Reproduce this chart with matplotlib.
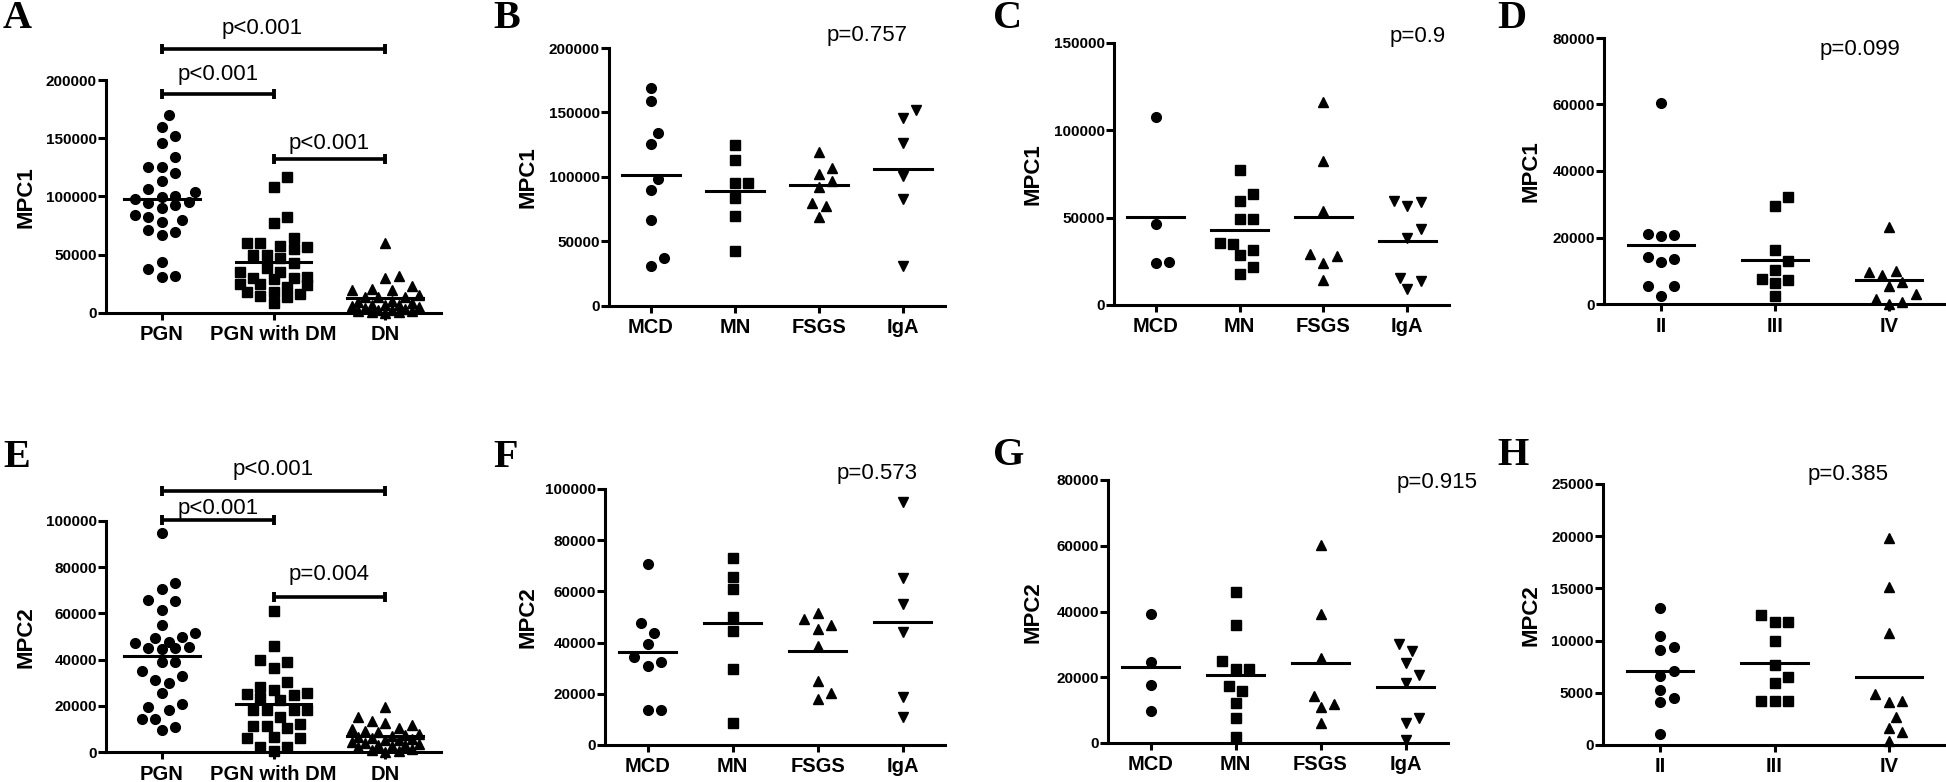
import numpy as np
import matplotlib
matplotlib.use('Agg')
import matplotlib.pyplot as plt

plt.rcParams['font.family'] = ['Liberation Sans', 'DejaVu Sans']
plt.rcParams['font.weight'] = 'bold'

W, H = 1946, 782

# ---------------- data ----------------
grp_kidney = ['PGN', 'PGN with DM', 'DN']
grp_path = ['MCD', 'MN', 'FSGS', 'IgA']
grp_class = ['II', 'III', 'IV']

# A: MPC1 by kidney group
a_pgn = [170000, 159400, 152200, 145600, 134200, 125600, 125600, 120400, 113600, 106400,
         103600, 100700, 99300, 97600, 95600, 94500, 92700, 89800, 84100, 82100,
         79800, 77800, 71200, 69200, 67000, 43500, 37500, 32000, 31200]
a_dm = [117000, 108400, 82700, 77500, 64100, 59800, 59800, 57800, 56400, 54700,
        49800, 49800, 46900, 42700, 38300, 35500, 34900, 31200, 29800, 29800,
        28900, 24900, 24900, 24000, 22600, 18300, 18300, 16000, 14600, 14000, 8300]
a_dn = [60000, 32000, 30000, 23000, 21000, 20000, 19500, 15500, 14000, 14000,
        13500, 10000, 9500, 9000, 7000, 7000, 6500, 6000, 5000, 4000,
        3500, 3000, 2500, 2000, 1500, 1000, 500, 0]
a_means = [97600, 44000, 13200]
a_pvals = ['p<0.001', 'p<0.001', 'p<0.001']

# E: MPC2 by kidney group
e_pgn = [94700, 73300, 70700, 65800, 65400, 61300, 55000, 51400, 49900, 49500,
         47800, 47300, 45600, 45200, 45200, 44600, 39100, 39100, 35100, 32900,
         31200, 30000, 25400, 20800, 19300, 18200, 14100, 14100, 11000, 9500]
e_dm = [61000, 45900, 39800, 39100, 36500, 30400, 28300, 26800, 25700, 25100,
        24700, 23200, 22500, 18200, 18200, 18200, 18200, 15300, 12000, 11300,
        11300, 10300, 6600, 5900, 5900, 2300, 2300, 500]
e_dn = [19600, 15300, 13500, 12500, 11500, 10500, 10000, 9000, 8500, 8000,
        7500, 7000, 6500, 6000, 5500, 5000, 5000, 4500, 4000, 3500,
        3000, 3000, 2500, 2000, 1500, 1000, 500, 0]
e_means = [41700, 20800, 7000]
e_pvals = ['p<0.001', 'p<0.001', 'p=0.004']

# B: MPC1 by pathology (PGN)
b_mcd = [169300, 159000, 134200, 125200, 98800, 90300, 66600, 37400, 31200]
b_mn = [124600, 113000, 95500, 95500, 83900, 69900, 42800]
b_fsgs = [119500, 106600, 102700, 96800, 91900, 79500, 77400, 69200]
b_iga = [152300, 145800, 126400, 100600, 82600, 31000]
b_means = [101900, 89500, 93700, 106100]

# F: MPC2 by pathology (PGN)
f_mcd = [70600, 47800, 43900, 39300, 34500, 32300, 31000, 13700, 13700]
f_mn = [73200, 65800, 60800, 49900, 44500, 29700, 8700]
f_fsgs = [51400, 49100, 46900, 45200, 38700, 25000, 20200, 17800]
f_iga = [95000, 65100, 55100, 44300, 18900, 11100]
f_means = [36200, 47500, 36800, 47900]

# C: MPC1 by pathology (PGN with DM)
c_mcd = [107700, 46100, 24600, 24200]
c_mn = [77200, 63500, 59500, 49200, 49200, 35600, 34700, 31400, 28600, 21900, 17700]
c_fsgs = [116300, 82300, 53700, 29000, 28000, 23800, 14300]
c_iga = [59500, 58700, 56800, 43300, 38500, 15200, 13700, 9000]
c_means = [50500, 42900, 50500, 36600]

# G: MPC2 by pathology (PGN with DM)
g_mcd = [39200, 24500, 17700, 9600]
g_mn = [45900, 36000, 25000, 22500, 22500, 17400, 15900, 12200, 7600, 1800]
g_fsgs = [60300, 39200, 26000, 14400, 11900, 10900, 6100]
g_iga = [30100, 27900, 24300, 20800, 18200, 7600, 6100, 1000]
g_means = [23000, 20600, 24300, 16900]

# D: MPC1 by DN class
d_ii = [60400, 21000, 20800, 20600, 14000, 13600, 12600, 5500, 5500, 2500]
d_iii = [32100, 29600, 16100, 12800, 10200, 7400, 7200, 6400, 2500]
d_iv = [23300, 10000, 9700, 8700, 6700, 5400, 3000, 1500, 500, 0]
d_means = [17800, 13300, 7200]

# H: MPC2 by DN class
h_ii = [13100, 10400, 9400, 9100, 7100, 6600, 5300, 4500, 4100, 1100]
h_iii = [12500, 11800, 11800, 10000, 7700, 6500, 5900, 4200, 4200, 4200]
h_iv = [19800, 15100, 10700, 4900, 4200, 4100, 2700, 1600, 1200, 400]
h_means = [7100, 7900, 6500]

p_single = {'B': 'p=0.757', 'C': 'p=0.9', 'D': 'p=0.099',
            'F': 'p=0.573', 'G': 'p=0.915', 'H': 'p=0.385'}

# ---------------- drawing ----------------
fig = plt.figure(figsize=(W / 100, H / 100), dpi=100)

MSIZE = {'o': 7.0, 's': 6.8, '^': 7.6, 'v': 7.6}


def swarm(ax, xc, vals, step=6.7, dmin=12.5, kmax=5):
    """spread points sideways (pixels); when the column is full, allow overlap"""
    vals = np.asarray(vals, dtype=float)
    pts = ax.transData.transform(np.column_stack([np.full(len(vals), xc), vals]))
    cands = [0] + [s * j for j in range(1, kmax + 1) for s in (1, -1)]
    placed = []
    xs = np.zeros(len(vals))
    for i in np.argsort(vals):
        px, py = pts[i]
        best, best_d = px, -1
        for c in cands:
            nx = px + c * step
            d = min([np.hypot(nx - qx, py - qy) for qx, qy in placed], default=1e9)
            if d >= dmin:
                best = nx
                break
            if d > best_d + 0.5:
                best, best_d = nx, d
        placed.append((best, py))
        xs[i] = best
    back = ax.transData.inverted().transform(np.column_stack([xs, pts[:, 1]]))
    return back[:, 0]


def panel(box, cats, groups, means, yticks, ylabel, letter, ylab_xy, letter_xy,
          markers, half=0.34):
    l, t, r, b = box
    ax = fig.add_axes([l / W, 1 - b / H, (r - l) / W, (b - t) / H])
    ax.set_xlim(-0.5, len(cats) - 0.5)
    ax.set_ylim(0, yticks[-1])
    for s in ['top', 'right']:
        ax.spines[s].set_visible(False)
    for s in ['left', 'bottom']:
        ax.spines[s].set_linewidth(2.2)
    ax.set_xticks(range(len(cats)))
    ax.set_xticklabels(cats, fontsize=14.5, fontweight='bold')
    ax.set_yticks(yticks)
    ax.set_yticklabels([str(v) for v in yticks], fontsize=11, fontweight='bold')
    ax.tick_params(axis='y', width=2.2, length=5.5, pad=1)
    ax.tick_params(axis='x', width=2.2, length=5, pad=4)

    for i, vals in enumerate(groups):
        xs = swarm(ax, i, vals)
        m = markers[i]
        ax.plot(xs, vals, linestyle='none', marker=m, ms=MSIZE[m], color='black',
                clip_on=False, zorder=3)
        ax.plot([i - half, i + half], [means[i], means[i]], color='black', lw=2.2,
                clip_on=False, zorder=4)

    fig.text(ylab_xy[0] / W, 1 - ylab_xy[1] / H, ylabel, rotation=90, ha='center',
             va='center', fontsize=16, fontweight='bold')
    fig.text(letter_xy[0] / W, 1 - letter_xy[1] / H, letter, ha='left', va='baseline',
             fontsize=29, fontweight='bold', family='Liberation Serif')
    return ax


def bracket(ax, i, j, label, y, dy_px, dx_px=0):
    ax.plot([i, j], [y, y], color='black', lw=2.6, clip_on=False, zorder=5,
            solid_capstyle='butt')
    ax.plot([i, j], [y, y], linestyle='none', marker='|', ms=7.5, mew=2.8,
            color='black', clip_on=False, zorder=5)
    ax.annotate(label, xy=((i + j) / 2, y), xytext=(dx_px * 0.72, dy_px * 0.72),
                textcoords='offset points', ha='center', va='center', fontsize=16,
                fontweight='normal', annotation_clip=False)


def ptext(ax, label, fx, fy):
    ax.text(fx, fy, label, transform=ax.transAxes, ha='center', va='center',
            fontsize=16, fontweight='normal', clip_on=False)


circ_sq_tri = ['o', 's', '^']
four = ['o', 's', '^', 'v']

# top row
axA = panel((106, 80, 441, 313), grp_kidney, [a_pgn, a_dm, a_dn], a_means,
            [0, 50000, 100000, 150000, 200000], 'MPC1', 'A', (26, 197), (3, 28),
            circ_sq_tri)
bracket(axA, 0, 2, a_pvals[0], 226600, 21, -11)
bracket(axA, 0, 1, a_pvals[1], 188000, 19)
bracket(axA, 1, 2, a_pvals[2], 132200, 15)

axB = panel((609, 48, 945, 306), grp_path, [b_mcd, b_mn, b_fsgs, b_iga], b_means,
            [0, 50000, 100000, 150000, 200000], 'MPC1', 'B', (528, 177), (493, 28),
            four)
ptext(axB, p_single['B'], 0.767, 1.05)

axC = panel((1114, 43, 1449, 305), grp_path, [c_mcd, c_mn, c_fsgs, c_iga], c_means,
            [0, 50000, 100000, 150000], 'MPC1', 'C', (1033, 174), (993, 28), four)
ptext(axC, p_single['C'], 0.905, 1.023)

axD = panel((1604, 38, 1946, 304), grp_class, [d_ii, d_iii, d_iv], d_means,
            [0, 20000, 40000, 60000, 80000], 'MPC1', 'D', (1531, 171), (1497, 28),
            circ_sq_tri, half=0.29)
ptext(axD, p_single['D'], 0.749, 0.955)

# bottom row
axE = panel((106, 521, 441, 752), grp_kidney, [e_pgn, e_dm, e_dn], e_means,
            [0, 20000, 40000, 60000, 80000, 100000], 'MPC2', 'E', (26, 637), (3, 467),
            circ_sq_tri)
bracket(axE, 0, 2, e_pvals[0], 113000, 21)
bracket(axE, 0, 1, e_pvals[1], 100400, 12)
bracket(axE, 1, 2, e_pvals[2], 67100, 22)

axF = panel((605, 489, 945, 745), grp_path, [f_mcd, f_mn, f_fsgs, f_iga], f_means,
            [0, 20000, 40000, 60000, 80000, 100000], 'MPC2', 'F', (528, 617),
            (493, 467), four)
ptext(axF, p_single['F'], 0.8, 1.059)

axG = panel((1108, 480, 1448, 743), grp_path, [g_mcd, g_mn, g_fsgs, g_iga], g_means,
            [0, 20000, 40000, 60000, 80000], 'MPC2', 'G', (1033, 612), (993, 465),
            four)
ptext(axG, p_single['G'], 0.968, 0.992)

axH = panel((1603, 484, 1946, 745), grp_class, [h_ii, h_iii, h_iv], h_means,
            [0, 5000, 10000, 15000, 20000, 25000], 'MPC2', 'H', (1531, 615),
            (1497, 465), circ_sq_tri, half=0.29)
ptext(axH, p_single['H'], 0.714, 1.038)

fig.savefig('out.png', dpi=100)
